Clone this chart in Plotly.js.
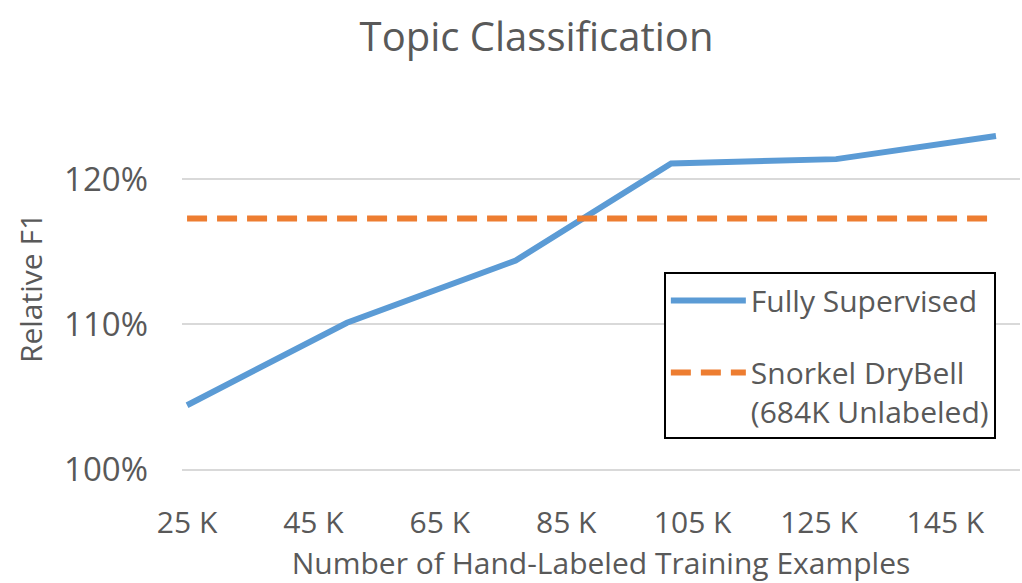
<!DOCTYPE html>
<html>
<head>
<meta charset="utf-8">
<script src="https://cdn.plot.ly/plotly-3.0.1.min.js"></script>
<style>html,body{margin:0;padding:0;background:#fff;}#chart{width:1022px;height:583px;}</style>
</head>
<body>
<div id="chart"></div>
<script>
// Data
const trainingExamplesK = [25, 50.3, 77, 101.6, 127.7, 153];
const fullySupervisedF1 = [104.4, 110.1, 114.4, 121.1, 121.4, 123.0];
const drybellX = [25, 153];
const drybellF1 = [117.3, 117.3];
const xTickVals = [25, 45, 65, 85, 105, 125, 145];
const xTickText = ["25 K", "45 K", "65 K", "85 K", "105 K", "125 K", "145 K"];
const yTickVals = [100, 110, 120];
const yTickText = ["100%", "110%", "120%"];

const textColor = "#595959";
const font = "Open Sans, Noto Sans, sans-serif";

const traces = [
  {
    x: trainingExamplesK, y: fullySupervisedF1,
    type: "scatter", mode: "lines", name: "Fully Supervised",
    legendgroup: "a",
    line: {color: "#5B9BD5", width: 6}
  },
  {
    x: drybellX, y: drybellF1,
    type: "scatter", mode: "lines", name: "Snorkel DryBell<br>(684K Unlabeled)",
    legendgroup: "b",
    line: {color: "#ED7D31", width: 6, dash: "20px,10px"}
  }
];

const layout = {
  width: 1022, height: 583,
  margin: {l: 182, r: 2, t: 107, b: 114},
  paper_bgcolor: "#fff", plot_bgcolor: "#fff",
  font: {family: font, color: textColor},
  title: {text: "Topic Classification", font: {size: 40, color: textColor, family: font}, x: 0.525, xanchor: "center", y: 0.937, yanchor: "middle"},
  showlegend: true,
  legend: {
    x: 0.575, xanchor: "left", y: 0.543, yanchor: "top",
    bgcolor: "#fff", bordercolor: "#000", borderwidth: 2,
    font: {size: 30, color: textColor, family: font},
    itemwidth: 75, traceorder: "grouped", tracegroupgap: 30, valign: "top",
    entrywidth: 350, entrywidthmode: "pixels"
  },
  xaxis: {
    range: [24.2, 156.8],
    tickvals: xTickVals, ticktext: xTickText,
    showgrid: false, zeroline: false,
    showline: true, linecolor: "#D9D9D9", linewidth: 2,
    ticks: "",
    tickfont: {size: 30, color: textColor, family: font},
    ticklabelstandoff: 26,
    title: {text: "Number of Hand-Labeled Training Examples", font: {size: 30, color: textColor, family: font}, standoff: 12}
  },
  yaxis: {
    range: [100, 125],
    tickvals: yTickVals, ticktext: yTickText,
    showgrid: true, gridcolor: "#D9D9D9", gridwidth: 2,
    zeroline: false, showline: false, ticks: "",
    tickfont: {size: 33, color: textColor, family: font},
    ticklabelstandoff: 33,
    title: {text: "Relative F1", font: {size: 30, color: textColor, family: font}, standoff: 12}
  }
};

Plotly.newPlot("chart", traces, layout, {displayModeBar: false, staticPlot: true});
</script>
</body>
</html>
